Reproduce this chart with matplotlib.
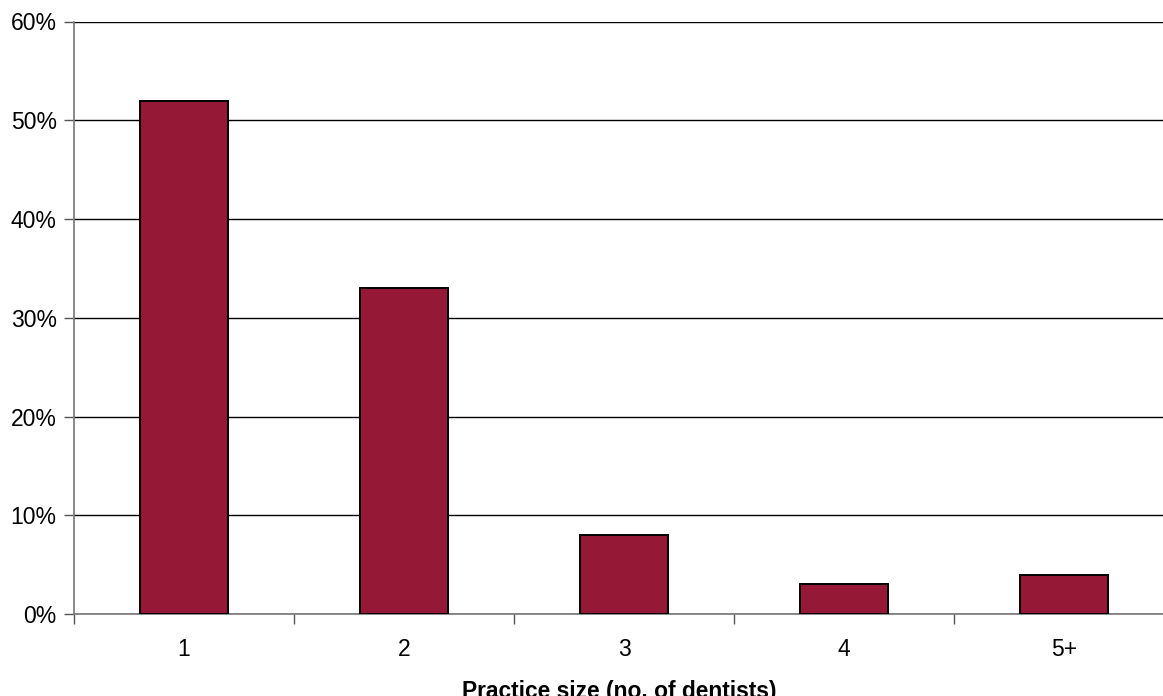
import numpy as np
import matplotlib.pyplot as plt
from matplotlib.ticker import FixedLocator, PercentFormatter

# Share of practices by number of dentists
categories = ["1", "2", "3", "4", "5+"]
shares = [52, 33, 8, 3, 4]

plt.rcParams["font.family"] = ["Liberation Sans", "DejaVu Sans"]

fig = plt.figure(figsize=(11.63, 6.96), dpi=100)
# plot area runs a little past the right edge of the canvas
ax = fig.add_axes([74 / 1163, 82 / 696, 1100 / 1163, 592.5 / 696])

x = np.arange(len(categories))
ax.bar(x, shares, width=0.4, color="#951937", edgecolor="black",
       linewidth=1.4, zorder=3)

ax.set_xlim(-0.5, len(categories) - 0.5)
ax.set_ylim(0, 60)
ax.set_yticks(np.arange(0, 61, 10))
ax.yaxis.set_major_formatter(PercentFormatter(decimals=0))
ax.yaxis.grid(True, color="black", linewidth=1.0, zorder=0)

ax.set_xticks(x)
ax.set_xticklabels(categories)
ax.xaxis.set_minor_locator(FixedLocator(np.arange(-0.5, len(categories), 1.0)))
ax.tick_params(axis="x", which="major", length=0, pad=17, labelsize=16.5)
ax.tick_params(axis="x", which="minor", length=7, width=1, color="#555555",
               direction="out")
ax.tick_params(axis="y", length=7, width=1, color="#555555", pad=5.5,
               labelsize=16.5)

for side in ("top", "right"):
    ax.spines[side].set_visible(False)
for side in ("left", "bottom"):
    ax.spines[side].set_color("#777777")
    ax.spines[side].set_linewidth(1.2)

ax.set_xlabel("Practice size (no. of dentists)", fontsize=16.4,
              fontweight="bold")
ax.xaxis.set_label_coords(0.496, -0.111)

fig.savefig("out.png", dpi=100)
